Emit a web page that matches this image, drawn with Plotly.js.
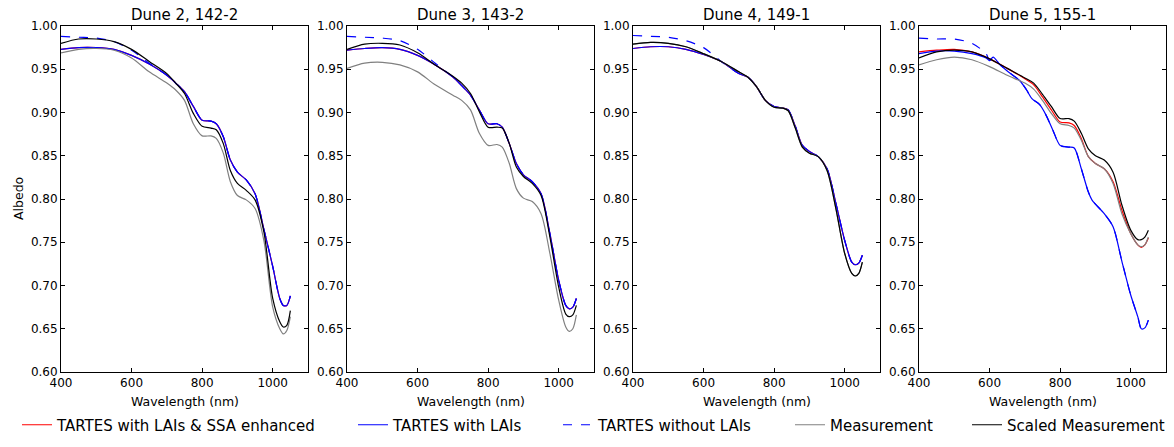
<!DOCTYPE html>
<html>
<head>
<meta charset="utf-8">
<script src="https://cdn.plot.ly/plotly-3.0.1.min.js"></script>
<style>body{margin:0;padding:0;background:#fff}#chart{width:1174px;height:447px}</style>
</head>
<body>
<div id="chart"></div>
<script>
// ---------------- DATA ----------------
const wavelength = [400,450,500,550,600,650,700,725,750,775,800,825,840,860,880,900,925,950,975,1000,1020,1030,1040,1050];
const wavelengthDune5Blue = [400,450,500,550,590,600,610,630,650,685,705,720,742,760,780,800,825,840,860,880,890,900,925,950,975,1000,1020,1030,1040,1050];

const panelTitles = ["Dune 2, 142-2", "Dune 3, 143-2", "Dune 4, 149-1", "Dune 5, 155-1"];
const seriesNames = ["TARTES with LAIs & SSA enhanced", "TARTES with LAIs", "TARTES without LAIs", "Measurement", "Scaled Measurement"];

// Dune 2, 142-2
const d2_blue   = [0.973,0.975,0.975,0.973,0.966,0.956,0.943,0.934,0.924,0.907,0.891,0.890,0.887,0.872,0.845,0.831,0.822,0.806,0.765,0.722,0.685,0.677,0.677,0.688];
const d2_red    = [0.973,0.975,0.975,0.973,0.966,0.956,0.943,0.934,0.924,0.907,0.891,0.890,0.887,0.872,0.845,0.831,0.822,0.806,0.765,0.722,0.685,0.677,0.677,0.688];
const d2_dashed = [0.988,0.987,0.986,0.982,0.972,0.957,0.943,0.934,0.924,0.907,0.891,0.890,0.887,0.872,0.845,0.831,0.822,0.806,0.765,0.722,0.685,0.677,0.677,0.688];
const d2_meas   = [0.969,0.973,0.974,0.972,0.963,0.947,0.934,0.926,0.914,0.887,0.873,0.873,0.870,0.853,0.820,0.804,0.799,0.789,0.752,0.675,0.650,0.644,0.648,0.664];
const d2_scaled = [0.980,0.985,0.985,0.982,0.973,0.959,0.945,0.934,0.922,0.899,0.884,0.882,0.880,0.864,0.833,0.818,0.810,0.799,0.762,0.685,0.658,0.652,0.654,0.671];

// Dune 3, 143-2
const d3_blue   = [0.972,0.974,0.975,0.973,0.966,0.955,0.941,0.931,0.920,0.903,0.887,0.887,0.883,0.864,0.841,0.828,0.820,0.806,0.760,0.706,0.677,0.673,0.675,0.685];
const d3_red    = [0.972,0.974,0.975,0.973,0.966,0.955,0.941,0.931,0.920,0.903,0.887,0.887,0.883,0.864,0.841,0.828,0.820,0.806,0.760,0.706,0.677,0.673,0.675,0.685];
const d3_dashed = [0.988,0.987,0.986,0.983,0.973,0.957,0.941,0.931,0.920,0.903,0.887,0.887,0.883,0.864,0.841,0.828,0.820,0.806,0.760,0.706,0.677,0.673,0.675,0.685];
const d3_meas   = [0.951,0.957,0.958,0.955,0.947,0.932,0.920,0.914,0.903,0.876,0.862,0.863,0.860,0.841,0.812,0.801,0.797,0.783,0.737,0.683,0.652,0.647,0.650,0.666];
const d3_scaled = [0.973,0.979,0.980,0.978,0.969,0.955,0.942,0.934,0.922,0.901,0.883,0.883,0.882,0.864,0.837,0.826,0.818,0.804,0.756,0.698,0.667,0.664,0.666,0.677];

// Dune 4, 149-1
const d4_blue   = [0.974,0.976,0.976,0.973,0.967,0.959,0.945,0.941,0.930,0.914,0.907,0.905,0.903,0.884,0.862,0.855,0.849,0.835,0.795,0.752,0.727,0.724,0.726,0.735];
const d4_red    = [0.974,0.976,0.976,0.973,0.967,0.959,0.945,0.941,0.930,0.914,0.907,0.905,0.903,0.884,0.862,0.855,0.849,0.835,0.795,0.752,0.727,0.724,0.726,0.735];
const d4_dashed = [0.989,0.988,0.987,0.983,0.975,0.959,0.945,0.941,0.930,0.914,0.907,0.905,0.903,0.884,0.862,0.855,0.849,0.835,0.795,0.752,0.727,0.724,0.726,0.735];
const d4_meas   = [0.979,0.981,0.980,0.976,0.968,0.959,0.947,0.941,0.930,0.914,0.906,0.905,0.902,0.882,0.860,0.853,0.849,0.833,0.789,0.737,0.714,0.711,0.714,0.727];
const d4_scaled = [0.979,0.981,0.980,0.976,0.968,0.959,0.947,0.941,0.930,0.914,0.906,0.905,0.902,0.882,0.860,0.853,0.849,0.833,0.789,0.737,0.714,0.711,0.714,0.727];

// Dune 5, 155-1
const d5_red    = [0.970,0.972,0.973,0.970,0.962,0.951,0.939,0.932,0.918,0.903,0.889,0.888,0.885,0.870,0.849,0.841,0.835,0.820,0.787,0.760,0.747,0.744,0.747,0.755];
const d5_blue   = [0.968,0.971,0.971,0.968,0.963,0.960,0.964,0.955,0.948,0.937,0.926,0.916,0.909,0.897,0.879,0.862,0.860,0.859,0.835,0.808,0.799,0.794,0.783,0.768,0.728,0.689,0.664,0.650,0.651,0.660];
const d5_dashed = [0.986,0.985,0.985,0.980,0.968,0.960,0.964,0.955,0.948,0.937,0.926,0.916,0.909,0.897,0.879,0.862,0.860,0.859,0.835,0.808,0.799,0.794,0.783,0.768,0.728,0.689,0.664,0.650,0.651,0.660];
const d5_meas   = [0.955,0.961,0.964,0.961,0.953,0.943,0.934,0.927,0.914,0.899,0.887,0.885,0.882,0.868,0.849,0.841,0.835,0.818,0.783,0.760,0.747,0.745,0.747,0.756];
const d5_scaled = [0.963,0.970,0.972,0.970,0.962,0.951,0.940,0.934,0.921,0.907,0.893,0.893,0.890,0.876,0.858,0.850,0.845,0.831,0.793,0.764,0.753,0.753,0.756,0.764];

// ---------------- BUILD ----------------
const panels = [
  {red:d2_red, blue:d2_blue, dashed:d2_dashed, meas:d2_meas, scaled:d2_scaled, blueX:wavelength},
  {red:d3_red, blue:d3_blue, dashed:d3_dashed, meas:d3_meas, scaled:d3_scaled, blueX:wavelength},
  {red:d4_red, blue:d4_blue, dashed:d4_dashed, meas:d4_meas, scaled:d4_scaled, blueX:wavelength},
  {red:d5_red, blue:d5_blue, dashed:d5_dashed, meas:d5_meas, scaled:d5_scaled, blueX:wavelengthDune5Blue}
];
const styles = [
  {color:'#ff0000', dash:'solid', legend:'legend'},
  {color:'#0000ff', dash:'solid', legend:'legend2'},
  {color:'#0000ff', dash:'dash', legend:'legend3'},
  {color:'#808080', dash:'solid', legend:'legend4'},
  {color:'#000000', dash:'solid', legend:'legend5'}
];

const traces = [];
panels.forEach((p, i) => {
  const sfx = i === 0 ? '' : String(i + 1);
  const ys = [p.red, p.blue, p.dashed, p.meas, p.scaled];
  const xs = [wavelength, p.blueX, p.blueX, wavelength, wavelength];
  ys.forEach((y, k) => {
    traces.push({
      type: 'scatter', mode: 'lines',
      x: xs[k], y: y,
      name: seriesNames[k],
      xaxis: 'x' + sfx, yaxis: 'y' + sfx,
      line: {color: styles[k].color, width: 1.2, dash: styles[k].dash, shape: 'spline', smoothing: 0.8},
      showlegend: i === 0,
      legend: styles[k].legend,
      hoverinfo: 'x+y+name'
    });
  });
});

const W = 1174, plotTop = 26, plotBottom = 372;
const plotH = plotBottom - plotTop;
const panelLeft = [61, 347, 633, 919];
const panelWidth = 247;

const font = {family: 'DejaVu Sans, sans-serif', color: '#000'};
const layout = {
  width: W, height: 447,
  margin: {l: 0, r: 0, t: plotTop, b: 447 - plotBottom, pad: 0},
  paper_bgcolor: '#fff', plot_bgcolor: '#fff',
  font: Object.assign({size: 12}, font),
  showlegend: true,
  annotations: [],
  hovermode: 'closest'
};

panelLeft.forEach((left, i) => {
  const sfx = i === 0 ? '' : String(i + 1);
  const ax = {
    domain: [left / W, (left + panelWidth) / W],
    range: [400, 1100], dtick: 200, tick0: 400,
    ticks: 'inside', ticklen: 4, tickcolor: '#000', tickwidth: 1,
    showline: true, linecolor: '#000', linewidth: 1, mirror: 'allticks',
    showgrid: false, zeroline: false,
    tickfont: Object.assign({size: 12}, font),
    anchor: 'y' + sfx, fixedrange: true
  };
  const ay = {
    domain: [0, 1],
    range: [0.6, 1.0], dtick: 0.05, tick0: 0.6, tickformat: '.2f',
    ticks: 'inside', ticklen: 4, tickcolor: '#000', tickwidth: 1,
    showline: true, linecolor: '#000', linewidth: 1, mirror: 'allticks',
    showgrid: false, zeroline: false,
    tickfont: Object.assign({size: 12}, font),
    anchor: 'x' + sfx, fixedrange: true
  };
  layout['xaxis' + sfx] = ax;
  layout['yaxis' + sfx] = ay;
  const cx = (left + panelWidth / 2) / W;
  layout.annotations.push({
    text: panelTitles[i], xref: 'paper', yref: 'paper', x: cx, y: 1 + (plotTop - 15) / plotH,
    xanchor: 'center', yanchor: 'middle', showarrow: false, font: Object.assign({size: 15}, font)
  });
  layout.annotations.push({
    text: 'Wavelength (nm)', xref: 'paper', yref: 'paper', x: cx, y: -(402 - plotBottom) / plotH,
    xanchor: 'center', yanchor: 'middle', showarrow: false, font: Object.assign({size: 12.5}, font)
  });
});
layout.annotations.push({
  text: 'Albedo', xref: 'paper', yref: 'paper', x: 18 / W, y: 0.5,
  xanchor: 'center', yanchor: 'middle', textangle: -90, showarrow: false, font: Object.assign({size: 12.5}, font)
});

const legendTextStarts = [62, 398, 603, 835, 1012];
const legendKeys = ['legend', 'legend2', 'legend3', 'legend4', 'legend5'];
legendKeys.forEach((key, k) => {
  layout[key] = {
    orientation: 'h', xref: 'paper', yref: 'paper',
    x: (legendTextStarts[k] - 45) / W, y: -(425 - plotBottom) / plotH,
    xanchor: 'left', yanchor: 'middle',
    bgcolor: 'rgba(0,0,0,0)', borderwidth: 0,
    font: Object.assign({size: 15}, font),
    itemclick: false, itemdoubleclick: false
  };
});

Plotly.newPlot('chart', traces, layout, {displayModeBar: false, staticPlot: false});
</script>
</body>
</html>
